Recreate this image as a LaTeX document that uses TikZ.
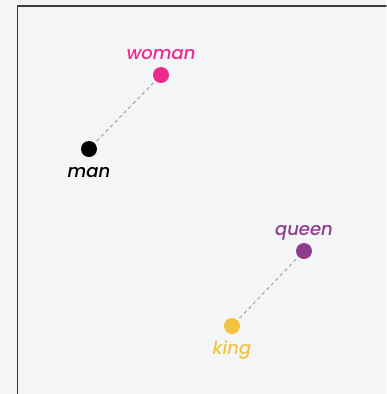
\documentclass[tikz,border=0pt]{standalone}
\usepackage{fontspec}
\setmainfont{Poppins}[UprightFont=* Medium, ItalicFont=* Medium Italic]
\usepackage{tikz}
\usetikzlibrary{positioning, calc}
\definecolor{bgGray}{HTML}{F4F5F7}
\definecolor{frameGray}{HTML}{3A3A3A}
\definecolor{linkGray}{HTML}{A8A8A8}
\definecolor{womanPink}{HTML}{EE2A8E}
\definecolor{queenPurple}{HTML}{8E3D8C}
\definecolor{kingYellow}{HTML}{F2C53D}
\tikzset{
    every path/.style={line cap=round, line join=round},
    worddot/.style={circle, inner sep=0pt, minimum size=16pt},
    wordlabel/.style={inner sep=0pt, text height=1.1ex, text depth=0pt, font=\fontsize{18}{18}\selectfont\itshape},
    analogy/.style={linkGray, line width=1.1pt, dash pattern=on 3pt off 3.5pt, shorten <=3pt, shorten >=3pt}
}

\begin{document}
\begin{tikzpicture}[x=1pt, y=-1pt]
    \fill [bgGray] (0,0) rectangle (386,394);
    \useasboundingbox (0,0) rectangle (386,394);
    \draw [frameGray, line width=1.5pt] (17.5,394) -- (17.5,6) -- (386,6);

    % word vectors
    \node [worddot, fill=womanPink] (woman) at (161,75) {};
    \node [worddot, fill=black] (man) at (89,149) {};
    \node [worddot, fill=queenPurple] (queen) at (304,251) {};
    \node [worddot, fill=kingYellow] (king) at (232,326) {};

    \node [wordlabel, womanPink, above=7pt of woman] (womantext) {woman};
    \node [wordlabel, black, below=14pt of man] (mantext) {man};
    \node [wordlabel, queenPurple, above=7pt of queen] (queentext) {queen};
    \node [wordlabel, kingYellow, below=14pt of king] (kingtext) {king};

    \draw [analogy] (man) -- (woman);
    \draw [analogy] (king) -- (queen);
\end{tikzpicture}
\end{document}
